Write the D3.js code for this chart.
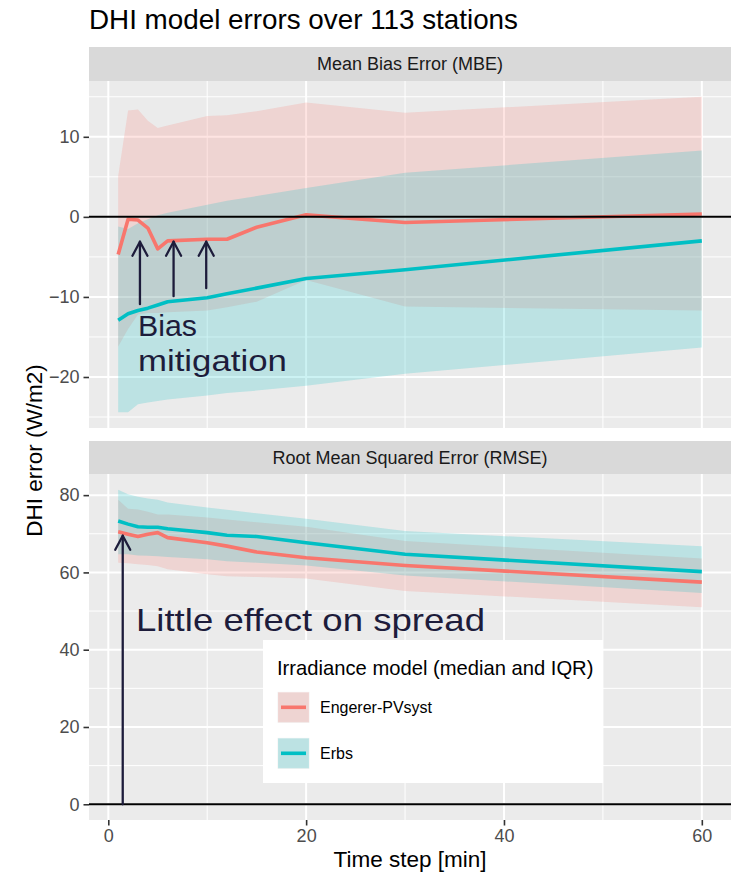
<!DOCTYPE html>
<html><head><meta charset="utf-8">
<script src="https://cdn.jsdelivr.net/npm/d3@7"></script>
<style>
body{margin:0;background:#fff}
svg{display:block}
text{font-family:"Liberation Sans",Arial,Helvetica,sans-serif}
</style>
</head><body>
<svg id="chart" width="736" height="875"></svg>
<script>
// ---------------- data ----------------
const timeSteps = [1, 2, 3, 4, 5, 6, 10, 12, 15, 20, 30, 60];

// Mean Bias Error (W/m2)
const mbeEngererMed = [-4.7, -0.3, -0.4, -1.4, -4.0, -3.0, -2.8, -2.8, -1.3, 0.25, -0.7, 0.35];
const mbeEngererQ25 = [-16.2, -14.0, -12.2, -12.0, -12.0, -11.9, -11.7, -11.3, -10.6, -7.9, -11.2, -11.7];
const mbeEngererQ75 = [5.1, 13.3, 13.4, 12.0, 11.1, 11.4, 12.6, 12.7, 13.2, 14.3, 13.0, 15.0];
const mbeErbsMed = [-12.9, -12.1, -11.7, -11.4, -11.0, -10.6, -10.1, -9.6, -8.9, -7.7, -6.6, -3.0];
const mbeErbsQ25 = [-24.4, -24.4, -23.4, -23.2, -23.0, -22.8, -22.3, -22.0, -21.7, -21.1, -19.6, -16.3];
const mbeErbsQ75 = [-1.2, -1.5, -0.8, -0.3, 0.2, 0.5, 1.5, 2.0, 2.6, 3.6, 5.5, 8.3];

// Root Mean Squared Error (W/m2)
const rmseEngererMed = [70.5, 69.9, 69.3, 69.9, 70.3, 69.0, 67.7, 66.8, 65.3, 63.8, 61.8, 57.5];
const rmseEngererQ25 = [62.5, 62.4, 62.1, 61.9, 61.6, 60.8, 59.5, 59.0, 58.8, 58.4, 55.2, 51.0];
const rmseEngererQ75 = [78.8, 76.5, 76.3, 75.7, 75.0, 75.0, 74.2, 73.7, 73.0, 71.8, 68.1, 63.6];
const rmseErbsMed = [73.3, 72.5, 71.8, 71.7, 71.7, 71.3, 70.3, 69.6, 69.3, 67.7, 64.7, 60.2];
const rmseErbsQ25 = [64.7, 64.7, 64.4, 64.3, 64.2, 64.0, 63.4, 62.9, 62.5, 61.8, 59.2, 54.7];
const rmseErbsQ75 = [81.4, 80.2, 79.6, 79.1, 78.8, 78.1, 76.8, 76.2, 75.3, 73.9, 70.7, 66.8];

const modelNames = ["Engerer-PVsyst", "Erbs"];
const modelColors = ["#F8766D", "#00BFC4"];
const panelTitles = ["Mean Bias Error (MBE)", "Root Mean Squared Error (RMSE)"];
const xTicks = [0, 20, 40, 60];
const mbeTicks = [-20, -10, 0, 10];
const rmseTicks = [0, 20, 40, 60, 80];

// annotations (data units)
const biasArrowX = [3.2, 6.6, 9.9];
const biasArrowTip = [-3.1, -3.1, -3.1];
const biasArrowTail = [-10.9, -9.9, -8.9];
const biasLabel = ["Bias", "mitigation"];
const biasLabelX = 3.0;
const biasLabelY = [-14.9, -19.3];
const spreadArrowX = 1.46;
const spreadArrowFrom = 0;
const spreadArrowTo = 69.5;
const spreadLabel = "Little effect on spread";
const spreadLabelX = 2.8;
const spreadLabelY = 44.8;

// ---------------- layout ----------------
const svg = d3.select("#chart");
const PL = 89, PR = 731;
const panelDefs = [
  {title: panelTitles[0], strip: [47, 81], area: [81, 428], ticks: mbeTicks,
   series: [[mbeEngererMed, mbeEngererQ25, mbeEngererQ75], [mbeErbsMed, mbeErbsQ25, mbeErbsQ75]]},
  {title: panelTitles[1], strip: [441, 474], area: [474, 820], ticks: rmseTicks,
   series: [[rmseEngererMed, rmseEngererQ25, rmseEngererQ75], [rmseErbsMed, rmseErbsQ25, rmseErbsQ75]]}
];

const xExt = d3.extent(timeSteps);
const xPad = (xExt[1] - xExt[0]) * 0.05;
const x = d3.scaleLinear().domain([xExt[0] - xPad, xExt[1] + xPad]).range([PL, PR]);

svg.append("rect").attr("width", 736).attr("height", 875).attr("fill", "#fff");

// title
svg.append("text").attr("x", PL).attr("y", 29).attr("font-size", 27.8).attr("fill", "#000")
  .text("DHI model errors over 113 stations");

const ink = "#1d1c3b";
const annoFont = '"Comic Sans MS","Comic Neue","DejaVu Sans",sans-serif';

panelDefs.forEach((p, pi) => {
  const allV = p.series.flat(2).concat([0]);
  const ext = d3.extent(allV);
  const pad = (ext[1] - ext[0]) * 0.05;
  const y = d3.scaleLinear().domain([ext[0] - pad, ext[1] + pad]).range([p.area[1], p.area[0]]);
  p.y = y;

  // strip
  svg.append("rect").attr("x", PL).attr("y", p.strip[0]).attr("width", PR - PL)
    .attr("height", p.strip[1] - p.strip[0]).attr("fill", "#D9D9D9");
  svg.append("text").attr("x", (PL + PR) / 2).attr("y", (p.strip[0] + p.strip[1]) / 2)
    .attr("dy", "0.36em").attr("text-anchor", "middle").attr("font-size", 18)
    .attr("fill", "#1A1A1A").text(p.title);

  // panel
  const g = svg.append("g");
  g.append("rect").attr("x", PL).attr("y", p.area[0]).attr("width", PR - PL)
    .attr("height", p.area[1] - p.area[0]).attr("fill", "#EBEBEB");
  const [y0, y1] = y.domain();
  // minor grid
  const minorY = [];
  for (let i = 0; i < p.ticks.length - 1; i++) minorY.push((p.ticks[i] + p.ticks[i + 1]) / 2);
  const step = p.ticks[1] - p.ticks[0];
  minorY.push(p.ticks[0] - step / 2, p.ticks[p.ticks.length - 1] + step / 2);
  minorY.filter(v => v >= y0 && v <= y1).forEach(v => {
    g.append("line").attr("x1", PL).attr("x2", PR).attr("y1", y(v)).attr("y2", y(v))
      .attr("stroke", "#fff").attr("stroke-width", 1);
  });
  const minorX = [10, 30, 50].filter(v => v >= x.domain()[0] && v <= x.domain()[1]);
  minorX.forEach(v => {
    g.append("line").attr("x1", x(v)).attr("x2", x(v)).attr("y1", p.area[0]).attr("y2", p.area[1])
      .attr("stroke", "#fff").attr("stroke-width", 1);
  });
  // major grid
  p.ticks.forEach(v => {
    g.append("line").attr("x1", PL).attr("x2", PR).attr("y1", y(v)).attr("y2", y(v))
      .attr("stroke", "#fff").attr("stroke-width", 2);
  });
  xTicks.forEach(v => {
    g.append("line").attr("x1", x(v)).attr("x2", x(v)).attr("y1", p.area[0]).attr("y2", p.area[1])
      .attr("stroke", "#fff").attr("stroke-width", 2);
  });

  // ribbons
  p.series.forEach((s, si) => {
    const rows = timeSteps.map((t, i) => ({t, med: s[0][i], lo: s[1][i], hi: s[2][i]}));
    const area = d3.area().x(d => x(d.t)).y0(d => y(d.lo)).y1(d => y(d.hi));
    g.append("path").datum(rows).attr("d", area).attr("fill", modelColors[si]).attr("fill-opacity", 0.2);
  });
  // median lines
  p.series.forEach((s, si) => {
    const rows = timeSteps.map((t, i) => ({t, med: s[0][i]}));
    const line = d3.line().x(d => x(d.t)).y(d => y(d.med));
    g.append("path").datum(rows).attr("d", line).attr("fill", "none")
      .attr("stroke", modelColors[si]).attr("stroke-width", 3.6).attr("stroke-linejoin", "round");
  });
  // hline at 0
  g.append("line").attr("x1", PL).attr("x2", PR).attr("y1", y(0)).attr("y2", y(0))
    .attr("stroke", "#000").attr("stroke-width", 2);

  // y axis
  const ya = svg.append("g").attr("transform", `translate(${PL},0)`)
    .call(d3.axisLeft(y).tickValues(p.ticks).tickSize(5.5).tickPadding(4).tickFormat(d3.format("d")));
  ya.select(".domain").remove();
  ya.selectAll(".tick line").attr("stroke", "#333").attr("stroke-width", 1.6);
  ya.selectAll(".tick text").attr("fill", "#4D4D4D").attr("font-size", 18)
    .attr("font-family", '"Liberation Sans",Arial,sans-serif');

  if (pi === 1) {
    const xa = svg.append("g").attr("transform", `translate(0,${p.area[1]})`)
      .call(d3.axisBottom(x).tickValues(xTicks).tickSize(5.5).tickPadding(4));
    xa.select(".domain").remove();
    xa.selectAll(".tick line").attr("stroke", "#333").attr("stroke-width", 1.6);
    xa.selectAll(".tick text").attr("fill", "#4D4D4D").attr("font-size", 18)
      .attr("font-family", '"Liberation Sans",Arial,sans-serif');
  }
});

// axis titles
svg.append("text").attr("x", (PL + PR) / 2).attr("y", 867).attr("text-anchor", "middle")
  .attr("font-size", 22.5).attr("fill", "#000").text("Time step [min]");
svg.append("text").attr("transform", `translate(42,${(81 + 820) / 2}) rotate(-90)`)
  .attr("text-anchor", "middle").attr("font-size", 22.5).attr("fill", "#000").text("DHI error (W/m2)");

// arrows helper
function arrow(x0, y0, x1, y1) {
  const g = svg.append("g").attr("stroke", ink).attr("stroke-width", 2.3).attr("fill", "none")
    .attr("stroke-linecap", "round").attr("stroke-linejoin", "round");
  g.append("line").attr("x1", x0).attr("y1", y0).attr("x2", x1).attr("y2", y1);
  g.append("polyline").attr("points", `${x1 - 7.5},${y1 + 14} ${x1},${y1} ${x1 + 7.5},${y1 + 14}`);
}

// MBE annotations
const yT = panelDefs[0].y, yB = panelDefs[1].y;
biasArrowX.forEach((v, i) => arrow(x(v), yT(biasArrowTail[i]), x(v), yT(biasArrowTip[i])));
biasLabel.forEach((t, i) => {
  svg.append("text").attr("x", x(biasLabelX)).attr("y", yT(biasLabelY[i]))
    .attr("font-family", annoFont).attr("font-size", 30).attr("fill", ink)
    .attr("textLength", i === 0 ? 59 : 149).attr("lengthAdjust", "spacingAndGlyphs").text(t);
});

// RMSE annotations
arrow(x(spreadArrowX), yB(spreadArrowFrom), x(spreadArrowX), yB(spreadArrowTo));
svg.append("text").attr("x", x(spreadLabelX)).attr("y", yB(spreadLabelY))
  .attr("font-family", annoFont).attr("font-size", 32).attr("fill", ink)
  .attr("textLength", 349).attr("lengthAdjust", "spacingAndGlyphs").text(spreadLabel);

// legend
const lg = svg.append("g");
lg.append("rect").attr("x", 263).attr("y", 640).attr("width", 340).attr("height", 143).attr("fill", "#fff");
lg.append("text").attr("x", 277).attr("y", 675).attr("font-size", 20.2).attr("fill", "#000")
  .text("Irradiance model (median and IQR)");
modelNames.forEach((n, i) => {
  const ky = 692.3 + i * 46;
  lg.append("rect").attr("x", 278).attr("y", ky).attr("width", 31).attr("height", 30)
    .attr("fill", "#EBEBEB").attr("stroke", "#F2F2F2").attr("stroke-width", 1);
  lg.append("rect").attr("x", 278).attr("y", ky).attr("width", 31).attr("height", 30)
    .attr("fill", modelColors[i]).attr("fill-opacity", 0.2);
  lg.append("line").attr("x1", 281).attr("x2", 306).attr("y1", ky + 15).attr("y2", ky + 15)
    .attr("stroke", modelColors[i]).attr("stroke-width", 3.6);
  lg.append("text").attr("x", 320).attr("y", ky + 15).attr("dy", "0.36em").attr("font-size", 16)
    .attr("fill", "#000").text(n);
});
</script>
</body></html>
